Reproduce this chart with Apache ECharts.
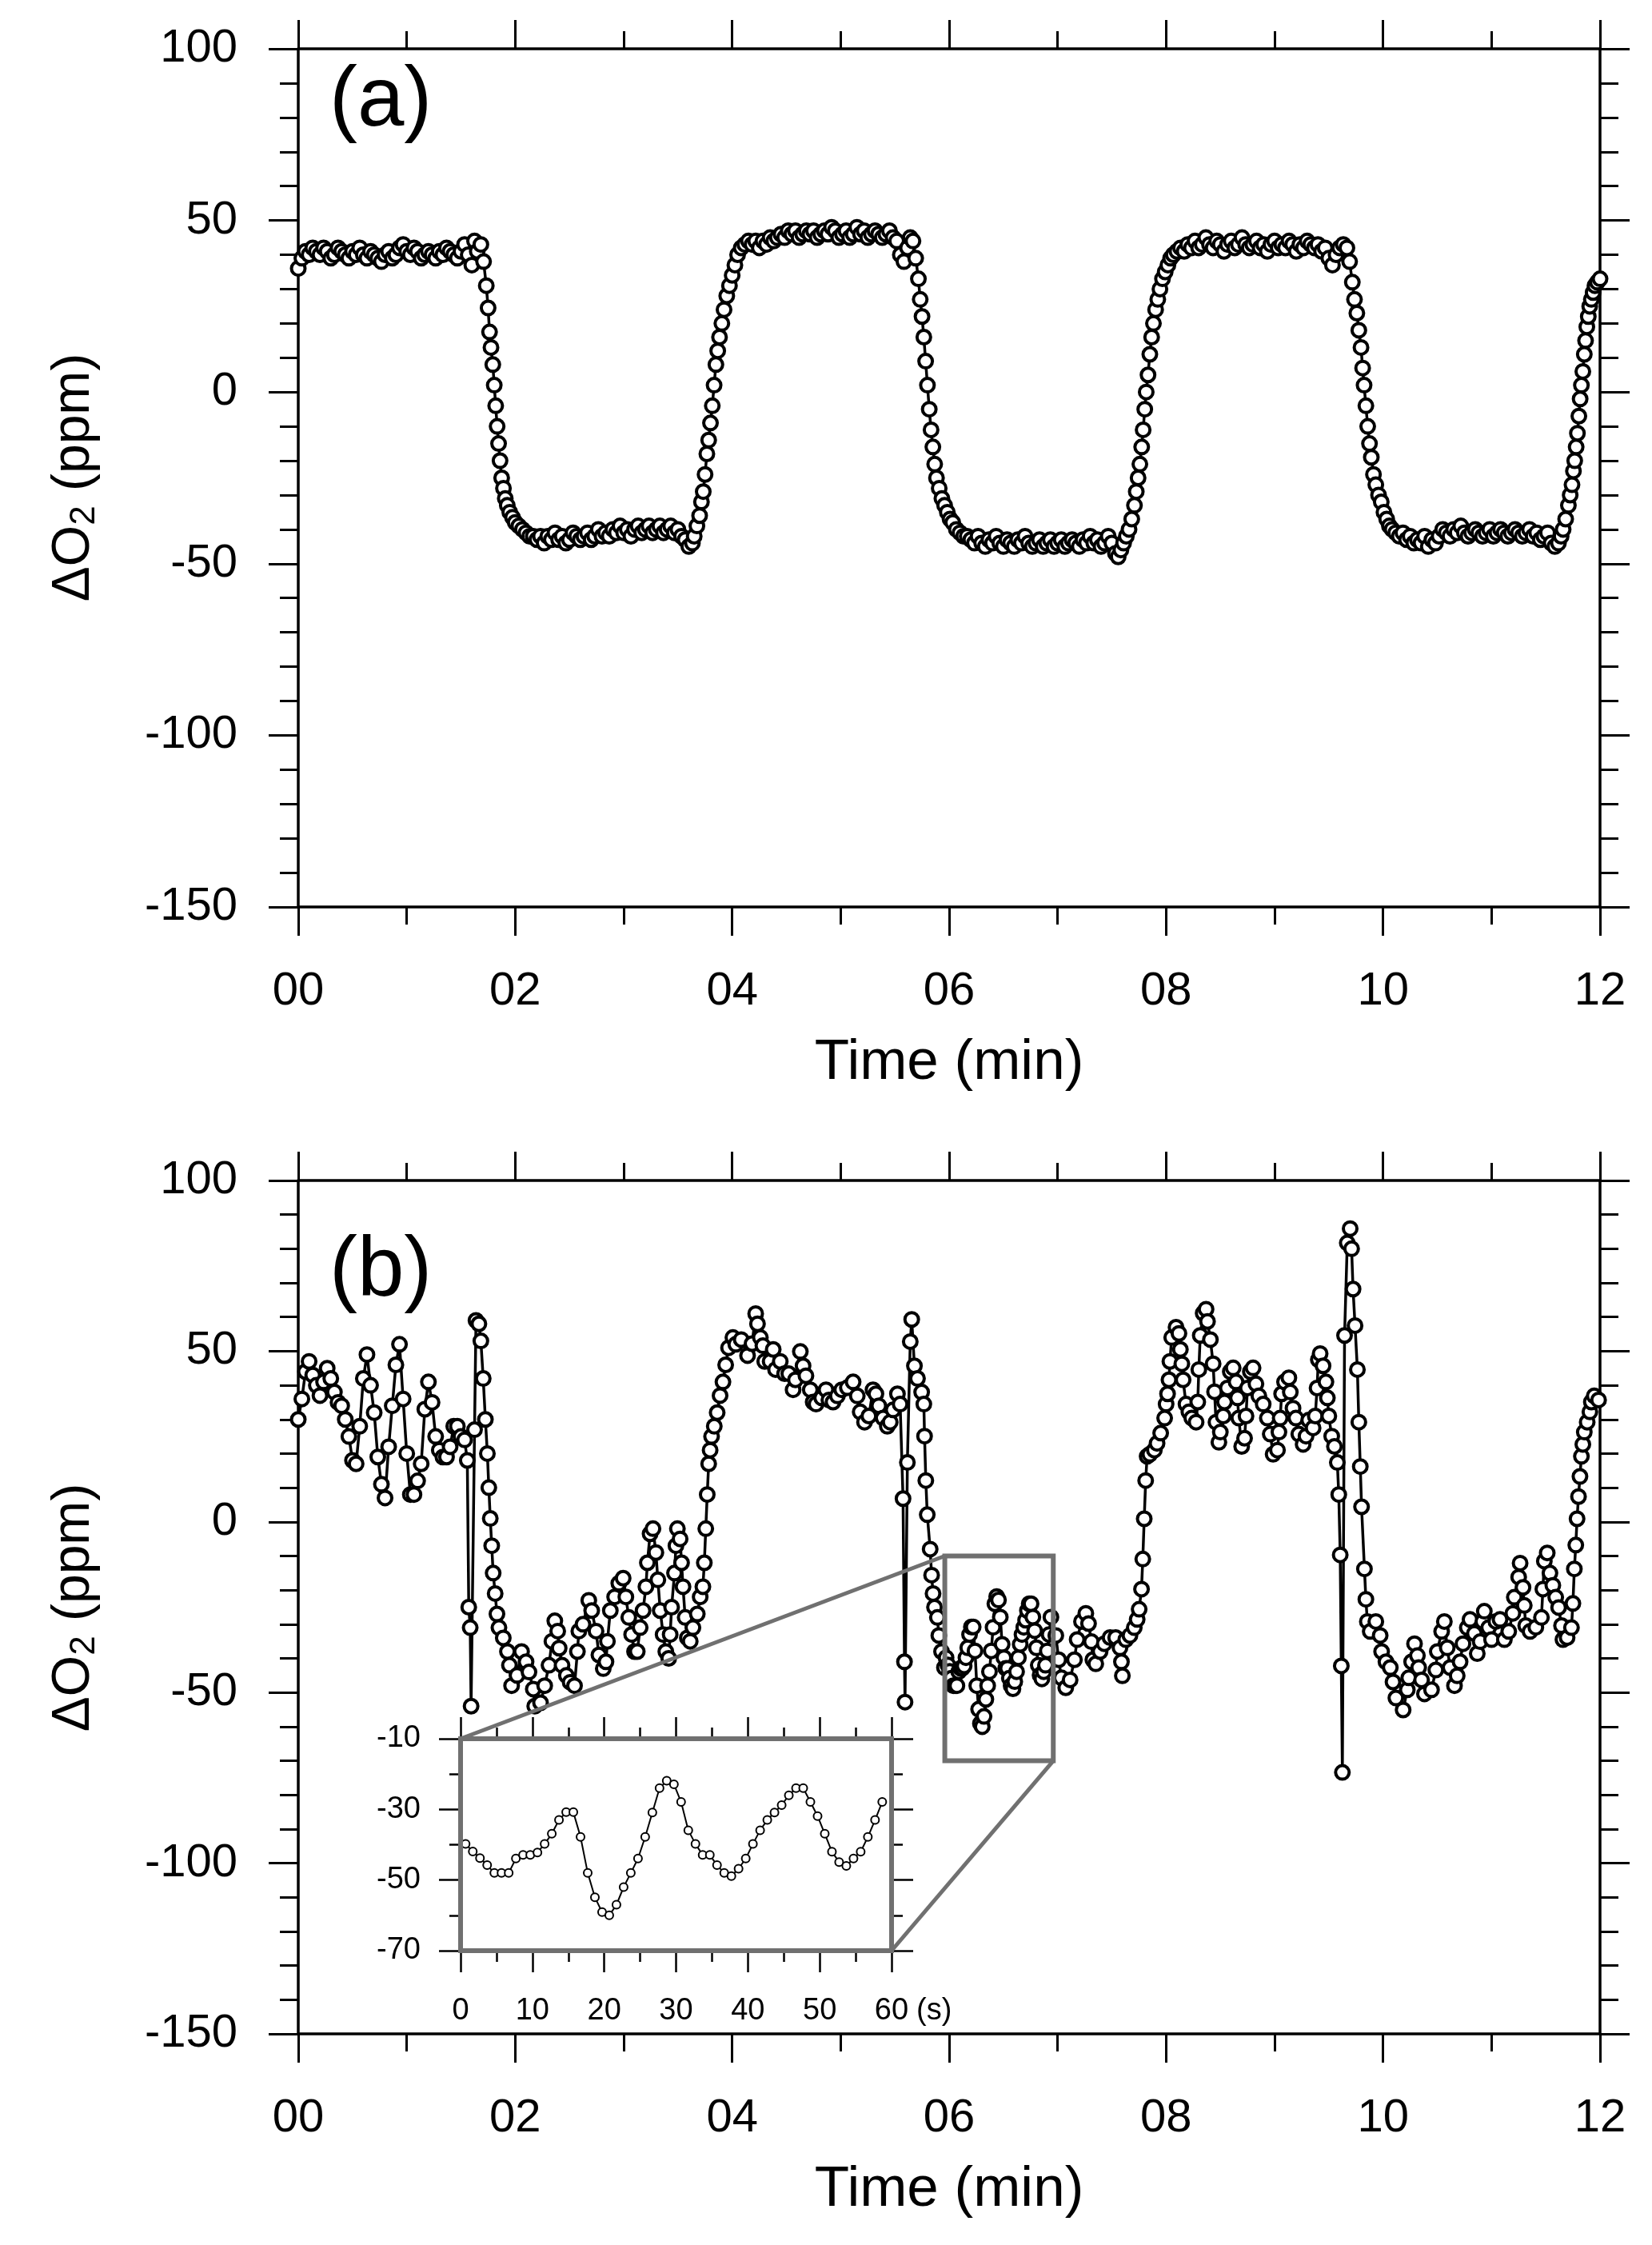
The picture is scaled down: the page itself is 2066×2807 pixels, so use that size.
<!DOCTYPE html>
<html>
<head>
<meta charset="utf-8">
<title>ΔO2 (ppm)</title>
<script src="https://cdn.jsdelivr.net/npm/echarts@6/dist/echarts.min.js"></script>
<style>
  html, body { margin: 0; padding: 0; background: #fff; }
  #main { width: 2066px; height: 2807px; }
</style>
</head>
<body>
<div id="main"></div>
<script>
// panel (a): [time s, dO2 ppm]
var aPoints = [
  [0,36],[2,39],[4,41],[6,40],[8,42],[10,41],[12,40],[14,42],[16,41],[18,39],[20,40],[22,42],[24,41],[26,40],[28,39],
  [30,41],[32,40],[34,42],[36,40],[38,39],[40,41],[42,40],[44,39],[46,38],[48,40],[50,41],[52,39],[54,40],[56,42],[58,43],
  [60,41],[62,40],[64,42],[66,41],[68,39],[70,40],[72,41],[74,40],[76,39],[78,41],[80,40],[82,42],[84,41],[86,40],[88,39],
  [90,41],[92,43],[94,40],[96,37],[97.5,44],[99,41],
  [101,43],[102.5,38],[104,31],[105,24.5],[105.8,17.5],[106.6,13],[107.6,8],[108.4,2],[109.2,-4],[110,-10],[110.8,-15],
  [111.6,-20],[112.5,-25],[113.5,-28],[114.5,-31],[115.6,-33],[117,-35],[118.5,-36.5],[120,-38],[122,-39],[124,-40],
  [126,-41],[128,-42],[130,-42],
  [132,-43],[134,-42],[136,-44],[138,-42],[140,-43],[142,-41],[144,-43],[146,-42],[148,-44],[150,-43],[152,-41],[154,-42],
  [156,-43],[158,-42],[160,-41],[162,-43],[164,-42],[166,-40],[168,-42],[170,-41],[172,-42],[174,-40],[176,-41],[178,-39],
  [180,-41],[182,-40],[184,-42],[186,-40],[188,-39],[190,-41],[192,-40],[194,-39],[196,-41],[198,-40],[200,-39],[202,-41],
  [204,-40],[206,-39],[208,-41],[210,-40],[212,-42],[214,-43],[216,-45],[218,-44],
  [219,-42],[220.5,-39],[222,-36],[223,-32],[224,-29],[225,-24],[226,-18],[227,-14],[228,-9],[229,-4],[230,2],[231,8],
  [232,12],[233,16],[234.3,20],[235.5,24],[237,28],[238.5,31],[240,34],[241.5,37],[243,40],[245,42],[247,43],
  [249,44],[251,43],[253,44],[255,42],[257,44],[259,43],[261,45],[263,44],[265,45],[267,46],[269,45],[271,47],[273,46],
  [275,47],[277,45],[279,46],[281,47],[283,46],[285,47],[287,45],[289,46],[291,47],[293,46],[295,48],[297,47],[299,45],
  [301,46],[303,47],[305,45],[307,46],[309,48],[311,46],[313,47],[315,45],[317,46],[319,47],[321,46],[323,45],[325,46],
  [327,47],[329,45],[331,44],[333,40],[335,38],[337,42],[338.5,45],[340,44],
  [341.5,39],[343,33],[344,27],[345,22],[346,16],[347,9],[348,2],[349,-5],[350,-11],[351,-16],[352,-21],[353,-25],
  [354.5,-28],[356,-31],[357.5,-33],[359,-35],[360.5,-37],[362,-38],[364,-40],[366,-41],[368,-42],[370,-42],
  [372,-43],[374,-44],[376,-42],[378,-44],[380,-45],[382,-43],[384,-44],[386,-42],[388,-44],[390,-45],[392,-43],[394,-44],
  [396,-45],[398,-43],[400,-44],[402,-42],[404,-44],[406,-45],[408,-44],[410,-43],[412,-45],[414,-44],[416,-43],[418,-45],
  [420,-44],[422,-43],[424,-45],[426,-44],[428,-43],[430,-44],[432,-45],[434,-43],[436,-44],[438,-42],[440,-44],[442,-43],
  [444,-45],[446,-44],[448,-42],[450,-44],[452,-47],[453.5,-48],
  [455,-46],[456.5,-44],[458,-42],[459.5,-40],[461,-37],[462.5,-33],[463.5,-29],[464.5,-25],[465.5,-21],[466.5,-16],
  [467.3,-11],[468.2,-5],[469,0],[470,5],[471,11],[472,16],[473,20],[474.2,24],[475.4,27],[476.6,30],[478,33],[479.5,35],
  [481,37],[482.5,39],[484,40],[486,41],[488,42],
  [490,41],[492,43],[494,42],[496,44],[498,42],[500,43],[502,45],[504,43],[506,42],[508,44],[510,43],[512,41],[514,43],
  [516,44],[518,42],[520,43],[522,45],[524,43],[526,42],[528,43],[530,44],[532,42],[534,43],[536,41],[538,43],[540,44],
  [542,42],[544,43],[546,42],[548,44],[550,43],[552,41],[554,43],[556,42],[558,44],[560,43],[562,42],[564,43],[566,41],
  [568,42],[570,39],[572,37],[574,40],[576,42],[578,43],
  [580,42],[581.5,38],[583,32],[584.2,27],[585.5,23],[586.6,18],[587.8,13],[588.7,7],[589.5,2],[590.5,-4],[591.5,-10],
  [592.5,-15],[593.5,-19],[594.7,-24],[596,-27],[597.5,-30],[599,-32],[600.5,-35],[602,-37],[603.5,-39],[605,-40],
  [607,-41],[609,-42],[611,-41],[613,-43],[615,-42],[617,-44],[619,-43],[621,-44],[623,-42],[625,-45],[627,-43],[629,-44],
  [631,-42],[633,-40],[635,-41],[637,-42],[639,-40],[641,-41],[643,-39],[645,-41],[647,-42],[649,-41],[651,-40],[653,-41],
  [655,-42],[657,-41],[659,-40],[661,-42],[663,-41],[665,-40],[667,-41],[669,-42],[671,-41],[673,-40],[675,-41],[677,-42],
  [679,-41],[681,-40],[683,-42],[685,-41],[687,-43],[689,-42],[691,-41],[693,-44],[695,-45],[697,-44],
  [698.5,-42],[699.6,-40],[701,-37],[702.5,-33],[703.5,-30],[704.5,-27],[705.3,-23],[706,-20],[706.8,-16],[707.5,-12],
  [708.3,-7],[709,-2],[709.7,2],[710.5,6],[711.3,11],[712,15],[712.7,19],[713.5,22],[714.3,25],[715.2,27],[716.2,29],
  [717.2,31],[718.5,32],[720,33]
];

// panel (b): [time s, dO2 ppm], the 60 s window comes from insetPpm
var bPointsBefore = [
  [0,30],[2,36],[4,44],[6,47],[8,43],[10,40],[12,37],[14,41],[16,45],[18,42],[20,38],[22,35],[24,34],[26,30],[28,25],
  [30,18],[32,17],[34,28],[36,42],[38,49],[40,40],[42,32],[44,19],[46,11],[48,7],[50,22],[52,34],[54,46],[56,52],[58,36],
  [60,20],[62,8],[64,8],[66,12],[68,17],[70,33],[72,41],[74,35],[76,25],[78,21],[80,19],[82,19],[84,22],[86,28],[88,28],
  [90,25],[92,24],[93.5,18],
  [94.3,-25],[95.1,-31],[95.6,-54],[97.5,27],[98.3,59],[99.9,58],[101,53],[102.3,42],[103.5,30],[104.6,20],[105.4,10],
  [106.2,1],[107,-7],[107.8,-15],[108.9,-21],[109.9,-27],[111,-31],[113.4,-34],[115.7,-38],[116.8,-42],[118,-48],[121,-45],
  [123.5,-38],[126,-41],[127.6,-44],[130,-49],[130.8,-54],[134,-53],[136.3,-48],[138.7,-42],[140.3,-35],[141.9,-29],
  [143.5,-32],[144.3,-37],[145.9,-42],[148.3,-45],[150.4,-47],[152.8,-48],[154.4,-38],[155.2,-32],[157.5,-30],[160.7,-23],
  [162.3,-26],[164.7,-32],[166.3,-39],[168.7,-43],[170.2,-41],[171,-35],[172.6,-26],[175,-22],[177.3,-18],[179.7,-16.5],
  [181.2,-22],[182.8,-28],[184.4,-33],[186,-38],[187.5,-38],[189.1,-31],[190.7,-26],[192.3,-19],[193.1,-12],[194.6,-3.5],
  [196.2,-2],[197.8,-9],[198.9,-17],[200.2,-26],[201.8,-33],[203.3,-38],[204.9,-40],[205.7,-33],[206.5,-25],[208.1,-15],
  [208.9,-7],[209.7,-2],[211.2,-5],[212,-12],[212.8,-19],[214,-28],[215.2,-34],[216.8,-35],[218.3,-31],[220.7,-27],
  [222.3,-22],[223.8,-19],[224.6,-12],[225.4,-2],[226.2,8],[227,17],[227.8,21],[228.6,25],[230.1,28],[231.7,32],[233.3,37],
  [234.9,41],[236.4,46],[238,51],[240.4,54],
  [242,52],[245,53.4],[248.5,48.7],[251,52.2],[253,61],[254,58],[255.6,54],[257,51.6],[258,47],[261,47],[262.7,50.5],
  [264,44.6],[266.6,47],[269,43.4],[271.3,43.4],[273.7,38.7],[275,41.6],[277.7,49.9],[279.2,45.7],[280.8,42.8],[283.2,38.7],
  [284.8,35.1],[286.4,34.5],[289.5,36.3],[291.9,38.7],[293.5,35.7],[295.8,35.1],[298.2,36.9],[300.6,38.7],[303.7,39.3],
  [306.9,41],[309.2,36.9],[310.8,32.2],[313.2,29.2],[315.6,31],[317.9,38.7],[319.5,37.5],[321.1,34],[323.5,30.4],[325.8,28],
  [327.4,29.2],[329,32.8],[331.4,37.5],[332.9,34.5],[334.5,6.8],[335.3,-41],[335.6,-52.8],[336.9,17.4],[338.5,52.8],
  [339.3,59.3],[340.8,45.7],[342.5,42],[344.8,38],[346,34.5],[346.4,25.1],[347.1,12.1],[347.9,2.1],[349.5,-8],[350.3,-15.6],
  [351.1,-21],[351.9,-25],[353.5,-28],[354.3,-33.3],[355.8,-38],[357.4,-42.7]
];

var bPointsAfter = [
  [419,-33.3],[420.6,-40.4],[422.1,-45.7],[424.5,-48.6],[426.9,-46.3],[429.3,-40.4],[430.8,-34.5],[433.2,-29.2],
  [435.6,-26.8],[437.1,-29.8],[438.7,-35.1],[439.5,-40.4],[441.1,-41.6],[443.5,-38],[445.8,-35.7],[449,-33.9],[452.1,-33.9],
  [454.5,-36.9],[455.3,-41],[455.8,-45.1],[457.7,-34.5],[460,-33.3],[462.4,-31],[464,-28.6],[465.1,-25.6],[466.4,-19.7],
  [467.1,-10.9],[467.9,0.9],[468.7,12.1],[469.5,19.2],[471,19.8],[473.5,21],[475,23],[477,26],
  [479.2,30.4],[480,34.5],[480.8,37.5],[481.6,41.6],[482.1,47],[483.1,54],[485.5,57],[487.1,55.2],[487.9,50.5],[488.7,46.3],
  [489.4,41.6],[491,34.5],[492.6,32.2],[494.2,30.4],[496.6,29.2],[497.5,35.1],[498.1,44.6],[498.9,54.6],[500.5,61.1],
  [502.1,62.3],[502.9,58.7],[504.5,53.4],[506,46.3],[506.8,38.1],[507.6,29.2],[509.2,23.3],[510,26.3],[511.6,31],[512.3,35.1],
  [513.9,39.2],[515.5,44],[517.1,45.1],[518.7,41],[519.5,36.3],[520.2,30.4],[521.8,22.1],[523.4,24.5],[524.2,31],[525,39.2],
  [526.6,44],[528.1,45.1],[529.7,40.4],[531.3,36.9],[533.7,34.5],[536,30.4],[537.6,25.7],[539.2,19.8],[541.6,21],[542.4,26.3],
  [543.1,30.4],[543.9,37.5],[545.5,41],[547.9,42.2],[548.7,38],[550.2,33.3],[551.8,30.4],[553.4,25.7],[555.8,22.7],
  [557.4,25.1],[558.9,29.8],[561.3,27.5],[562.5,31],[563.5,39.2],[564.2,47.5],[565.2,49.3],[566.8,45.7],[568.4,41],
  [569.2,36.3],[570,31],[571.6,25.1],[573.1,22.1],[574.7,17.4],[575.5,8],[576.3,-9.7],[576.9,-42.2],[577.5,-73.4],
  [578.7,54.6],[580.2,81.7],[581.8,85.9],[582.6,80],[583.4,68.2],[584.5,57.5],[585.8,44.6],[586.6,29.2],[587.4,16.2],
  [588.1,4.4],[589.7,-13.8],[590.5,-22.7],[591.3,-29.2],[592.9,-32.1],[596,-29.2],[598.4,-33.3],[599.2,-38],[601.6,-41],
  [604,-42.7],[605.5,-46.9],[607.1,-51.6],[611.1,-55.1],[613.4,-49.2],[614.2,-45.7],[615.8,-41],[617.4,-35.7],[619,-39.2],
  [619.7,-42.7],[621.3,-46.3],[622.9,-50.4],[626.8,-49.2],[629.2,-43.4],[630,-38],[632.4,-32.1],[633.9,-29.2],[635.5,-36.9],
  [637.1,-42.7],[639.5,-48],[641,-45.1],[642.6,-41],[644.2,-35.7],[646.6,-31],[648.1,-28.6],[650.5,-32.7],[652.1,-38.6],
  [653.7,-35.1],[655.2,-29.2],[656,-26.2],[658.4,-31],[660,-34.5],[662.4,-29.2],[664.7,-28.6],[667.1,-34.5],[669.5,-32.1],
  [671.8,-26.8],[672.6,-22.1],[675,-16.2],[675.8,-12.1],[677.4,-19.2],[678.1,-24.5],[678.9,-30.4],[681.3,-32.1],
  [684.5,-30.9],[687.6,-28],[688.4,-19.7],[689.2,-11.5],[690.8,-9.1],[692.3,-15],[693.9,-18.6],[695.5,-22.1],[697.1,-25.1],
  [698.7,-30.4],[699.5,-34.5],[701.8,-33.9],[704.2,-31],[705,-23.9],[705.8,-13.8],[706.6,-6.8],[707.3,0.9],[708.1,7.4],
  [708.9,13.3],[709.7,19.2],[710.5,22.7],[711.3,26.3],[712.9,29.2],[714.4,32.2],[715.2,35.1],[716.8,36.9],[719.2,35.7]
];

// inset: 1 s samples inside the zoomed minute
var insetWindowStart = 357.6;   // s, where the inset minute starts on panel (b)
var insetFirstSample = 0.7;     // s
var insetPpm = [
  -39.8,-41.9,-43.8,-45.8,-48,-48,-48,-43.9,-42.9,-42.9,-42.2,-39.8,-36.9,-33,-30.8,-30.8,-37.8,-48,-54.9,-59.1,
  -60,-57,-52,-48,-43.9,-37.8,-30.9,-24,-21.9,-22.9,-27.9,-35.9,-39.8,-42.9,-42.9,-45.8,-48,-48.9,-46.8,-43.9,
  -39.8,-35.9,-33,-30.9,-28.8,-26,-24,-24,-27.9,-31.9,-36.9,-42,-44.9,-46,-43.9,-42,-37.8,-33,-27.9
];

var xRangeMin = [0, 12], yRangeMain = [-150, 100], yRangeInset = [-70, -10];

var FONT = '"Liberation Sans", Arial, Helvetica, sans-serif';
var GRAY = '#707070';

var insetData = insetPpm.map(function (v, i) { return [insetFirstSample + i, v]; });
var insetOnMain = insetData.map(function (p) { return [insetWindowStart + p[0], p[1]]; });
function toMin(arr) { return arr.map(function (p) { return [p[0] / 60, p[1]]; }); }

var chart = echarts.init(document.getElementById('main'), null, { renderer: 'canvas' });

function axisBase(gi, o) {
  return {
    gridIndex: gi, type: 'value', min: o.min, max: o.max, interval: o.interval,
    splitLine: { show: false },
    axisLine: { onZero: false, lineStyle: { color: '#000', width: o.lw } },
    axisTick: { inside: false, length: o.tick, lineStyle: { color: '#000', width: o.tw } },
    minorTick: { show: true, splitNumber: o.minor, length: o.minorLen, lineStyle: { color: '#000', width: o.tw } }
  };
}
function xPair(gi, o) {
  var bottom = Object.assign(axisBase(gi, o), {
    position: 'bottom',
    axisLabel: { show: true, fontSize: o.fs, fontFamily: FONT, color: '#000', margin: o.margin,
      showMinLabel: true, showMaxLabel: true, formatter: o.fmt },
    name: o.name || '', nameLocation: 'middle', nameGap: o.nameGap || 0,
    nameTextStyle: { fontSize: 71, fontFamily: FONT, color: '#000' }
  });
  var top = Object.assign(axisBase(gi, o), { position: 'top', axisLabel: { show: false } });
  return [bottom, top];
}
function yPair(gi, o) {
  var left = Object.assign(axisBase(gi, o), {
    position: 'left',
    axisLabel: { show: true, fontSize: o.fs, fontFamily: FONT, color: '#000', margin: o.margin,
      showMinLabel: true, showMaxLabel: true }
  });
  var right = Object.assign(axisBase(gi, o), { position: 'right', axisLabel: { show: false } });
  return [left, right];
}

var minFmt = function (v) { return (v < 10 ? '0' : '') + v; };
var mainX = { min: xRangeMin[0], max: xRangeMin[1], interval: 2, minor: 2, lw: 3.5, tw: 3, tick: 36, minorLen: 22,
  fs: 58, margin: 77, fmt: minFmt, name: 'Time (min)', nameGap: 160 };
var mainY = { min: yRangeMain[0], max: yRangeMain[1], interval: 50, minor: 5, lw: 3.5, tw: 3, tick: 37, minorLen: 23,
  fs: 58, margin: 76 };
var insX = { min: 0, max: 60, interval: 10, minor: 2, lw: 2.5, tw: 2.5, tick: 27, minorLen: 14, fs: 38, margin: 57,
  fmt: function (v) { return String(v); } };
var insY = { min: yRangeInset[0], max: yRangeInset[1], interval: 20, minor: 2, lw: 2.5, tw: 2.5, tick: 27, minorLen: 14,
  fs: 38, margin: 50 };

var xAxes = [].concat(xPair(0, mainX), xPair(1, mainX), xPair(2, insX));
var yAxes = [].concat(yPair(0, mainY), yPair(1, mainY), yPair(2, insY));

function dotSeries(name, xi, data, size, bw, lw) {
  return {
    name: name, type: 'line', xAxisIndex: xi, yAxisIndex: xi, data: data,
    symbol: 'circle', symbolSize: size, showAllSymbol: true, animation: false, silent: true,
    itemStyle: { color: '#fff', borderColor: '#000', borderWidth: bw },
    lineStyle: { color: '#000', width: lw },
    emphasis: { disabled: true }
  };
}

var option = {
  backgroundColor: '#fff',
  animation: false,
  grid: [
    { left: 373, top: 61, width: 1628, height: 1073 },
    { left: 373, top: 1476, width: 1628, height: 1067 },
    { left: 576, top: 2174, width: 539, height: 265, show: true, backgroundColor: '#fff', borderWidth: 0 }
  ],
  xAxis: xAxes,
  yAxis: yAxes,
  series: [
    dotSeries('a', 0, toMin(aPoints), 17, 4, 3.5),
    dotSeries('b', 2, toMin([].concat(bPointsBefore, insetOnMain, bPointsAfter)), 17, 4, 3.5),
    dotSeries('inset', 4, insetData, 10, 2, 2)
  ]
};
chart.setOption(option);

function px(ai, pt) { return chart.convertToPixel({ xAxisIndex: ai, yAxisIndex: ai }, pt); }
var bTL = px(2, [insetWindowStart / 60, yRangeInset[1]]);
var bBR = px(2, [(insetWindowStart + 60) / 60, yRangeInset[0]]);
var iTL = px(4, [0, yRangeInset[1]]);
var iBR = px(4, [60, yRangeInset[0]]);

var yTitle = {
  text: '{a|ΔO}{s|2}{a| (ppm)}',
  rich: {
    a: { fontSize: 66, fontFamily: FONT, fill: '#000', lineHeight: 70 },
    s: { fontSize: 44, fontFamily: FONT, fill: '#000', verticalAlign: 'bottom', lineHeight: 50 }
  },
  align: 'center', verticalAlign: 'middle', fill: '#000'
};

chart.setOption({
  graphic: [
    { type: 'line', z: 100, shape: { x1: bTL[0], y1: bTL[1], x2: iTL[0], y2: iTL[1] },
      style: { stroke: GRAY, lineWidth: 5 } },
    { type: 'line', z: 100, shape: { x1: bBR[0], y1: bBR[1], x2: iBR[0], y2: iBR[1] },
      style: { stroke: GRAY, lineWidth: 5 } },
    { type: 'rect', z: 101, shape: { x: bTL[0], y: bTL[1], width: bBR[0] - bTL[0], height: bBR[1] - bTL[1] },
      style: { fill: 'none', stroke: GRAY, lineWidth: 6 } },
    { type: 'rect', z: 101, shape: { x: iTL[0], y: iTL[1], width: iBR[0] - iTL[0], height: iBR[1] - iTL[1] },
      style: { fill: 'none', stroke: GRAY, lineWidth: 6 } },
    { type: 'text', z: 101, x: iBR[0] + 31, y: iBR[1] + 76,
      style: { text: '(s)', fontSize: 38, fontFamily: FONT, fill: '#000', align: 'left', verticalAlign: 'middle' } },
    { type: 'text', z: 101, x: 412, y: 128,
      style: { text: '(a)', fontSize: 105, fontFamily: FONT, fill: '#000', align: 'left', verticalAlign: 'middle' } },
    { type: 'text', z: 101, x: 412, y: 1591,
      style: { text: '(b)', fontSize: 105, fontFamily: FONT, fill: '#000', align: 'left', verticalAlign: 'middle' } },
    { type: 'text', z: 101, x: 93, y: 597, rotation: Math.PI / 2, style: yTitle },
    { type: 'text', z: 101, x: 93, y: 2010, rotation: Math.PI / 2, style: yTitle }
  ]
});
</script>
</body>
</html>
